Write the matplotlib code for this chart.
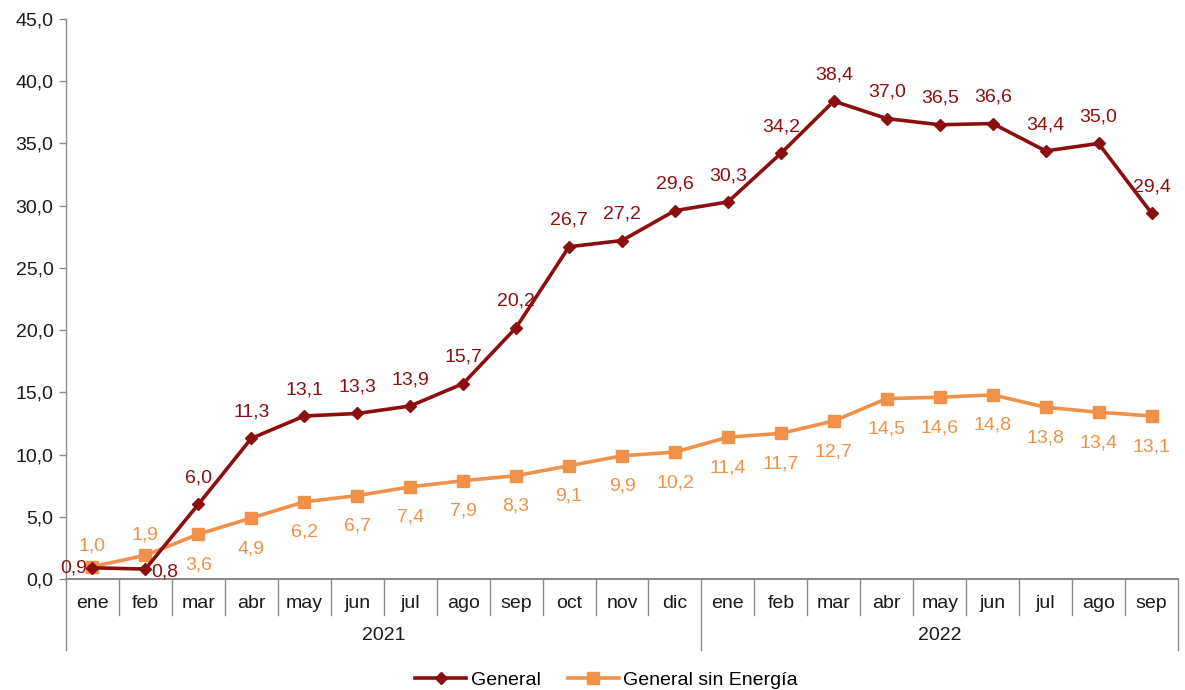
import matplotlib
matplotlib.use("Agg")
import matplotlib.pyplot as plt
from matplotlib.lines import Line2D
import matplotlib.transforms as mtransforms

plt.rcParams['font.family'] = ['Liberation Sans', 'DejaVu Sans']

months = ["ene", "feb", "mar", "abr", "may", "jun", "jul", "ago", "sep", "oct", "nov", "dic",
          "ene", "feb", "mar", "abr", "may", "jun", "jul", "ago", "sep"]
years = ["2021", "2022"]
year_counts = [12, 9]
general = [0.9, 0.8, 6.0, 11.3, 13.1, 13.3, 13.9, 15.7, 20.2, 26.7, 27.2, 29.6,
           30.3, 34.2, 38.4, 37.0, 36.5, 36.6, 34.4, 35.0, 29.4]
sin_energia = [1.0, 1.9, 3.6, 4.9, 6.2, 6.7, 7.4, 7.9, 8.3, 9.1, 9.9, 10.2,
               11.4, 11.7, 12.7, 14.5, 14.6, 14.8, 13.8, 13.4, 13.1]
yticks = [0, 5, 10, 15, 20, 25, 30, 35, 40, 45]

c_gen = "#8B0F0F"
c_sin = "#F0914A"
c_axis = "#8C8C8C"
fs = 14

fig = plt.figure(figsize=(11.85, 6.9), dpi=100)
ax = fig.add_axes([66/1185, 1-579/690, 1112/1185, 560/690])

x = list(range(len(months)))
ax.plot(x, general, color=c_gen, lw=2.6, marker='D', ms=6.5, zorder=4)
ax.plot(x, sin_energia, color=c_sin, lw=2.6, marker='s', ms=9, zorder=3)

fmt = lambda v: f"{v:.1f}".replace('.', ',')

for i, v in enumerate(general):
    if i == 0:
        ax.annotate(fmt(v), (i, v), xytext=(-4, 0), textcoords='offset points',
                    ha='right', va='center', color=c_gen, fontsize=fs)
    elif i == 1:
        ax.annotate(fmt(v), (i, v), xytext=(4, -2), textcoords='offset points',
                    ha='left', va='center', color=c_gen, fontsize=fs)
    else:
        ax.annotate(fmt(v), (i, v), xytext=(0, 19), textcoords='offset points',
                    ha='center', va='center', color=c_gen, fontsize=fs)

for i, v in enumerate(sin_energia):
    if i < 2:
        ax.annotate(fmt(v), (i, v), xytext=(0, 15), textcoords='offset points',
                    ha='center', va='center', color=c_sin, fontsize=fs)
    else:
        ax.annotate(fmt(v), (i, v), xytext=(0, -22), textcoords='offset points',
                    ha='center', va='center', color=c_sin, fontsize=fs)

ax.set_xlim(-0.5, len(months) - 0.5)
ax.set_ylim(0, 45)
ax.set_yticks(yticks)
ax.set_yticklabels([fmt(t) for t in yticks], fontsize=fs, color="#1a1a1a")
ax.tick_params(axis='y', direction='out', length=5, color=c_axis, width=1, pad=4)
ax.set_xticks([])
for s in ['top', 'right']:
    ax.spines[s].set_visible(False)
ax.spines['left'].set_color(c_axis)
ax.spines['bottom'].set_color(c_axis)
ax.spines['left'].set_linewidth(1)
ax.spines['bottom'].set_linewidth(1.5)

trans = mtransforms.blended_transform_factory(ax.transData, ax.transAxes)
ax_h = 560.0
month_y = -25/ax_h
sep_m = -36/ax_h
sep_y = -71/ax_h
year_y = -56/ax_h

for i, m in enumerate(months):
    ax.text(i, month_y, m, transform=trans, ha='center', va='center', fontsize=fs, color="#1a1a1a")

boundaries_year = [-0.5]
acc = -0.5
for c in year_counts:
    acc += c
    boundaries_year.append(acc)

for k in range(len(months) + 1):
    b = k - 0.5
    bottom = sep_y if b in boundaries_year else sep_m
    ax.add_line(Line2D([b, b], [0, bottom], transform=trans, color=c_axis, lw=1, clip_on=False))

start = -0.5
for yname, c in zip(years, year_counts):
    ax.text(start + c/2, year_y, yname, transform=trans, ha='center', va='center', fontsize=fs, color="#1a1a1a")
    start += c

handles = [Line2D([], [], color=c_gen, lw=2.6, marker='D', ms=6.5),
           Line2D([], [], color=c_sin, lw=2.6, marker='s', ms=9)]
fig.legend(handles, ["General", "General sin Energía"], loc='center', bbox_to_anchor=(0.512, 1-680/690),
           ncol=2, frameon=False, fontsize=fs, handlelength=2.6, columnspacing=1.4, handletextpad=0.25)

fig.savefig("out.png", dpi=100)
